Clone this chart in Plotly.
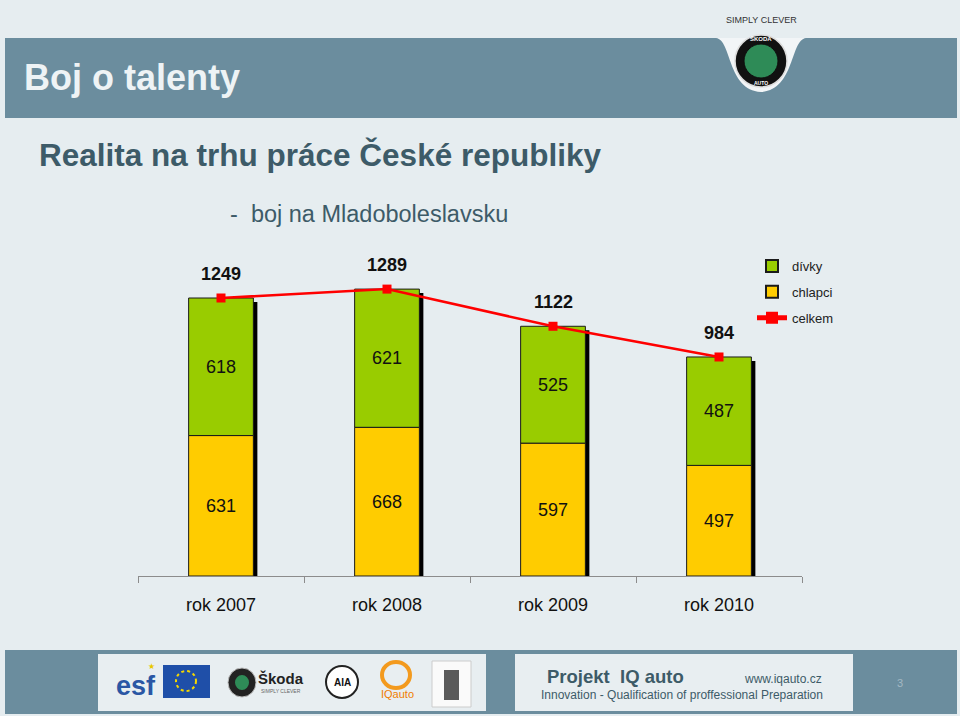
import plotly.graph_objects as go

# ---------------- data ----------------
categories = ["rok 2007", "rok 2008", "rok 2009", "rok 2010"]
divky = [618, 621, 525, 487]      # girls (green, upper segment)
chlapci = [631, 668, 597, 497]    # boys (yellow, lower segment)
celkem = [1249, 1289, 1122, 984]  # total (red line)

# ---------------- geometry helpers ----------------
W, H = 960, 716
L, R, T, B = 138, 802, 264, 576          # plot area in pixels
PW, PH = R - L, B - T
PX_PER_UNIT = 278 / 1249.0
YMAX = PH / PX_PER_UNIT


def xp(px):
    return (px - L) / PW


def yp(py):
    return (B - py) / PH


BG = "#E6EDF0"
BAND = "#6B8D9E"
DARK_TXT = "#3D5B68"
GREEN = "#99CC00"
YELLOW = "#FFCC00"
OUTLINE = "#1A1A1A"
FONT = "Liberation Sans, Arial"

BAR_W = 0.39
SHADOW_DX = 4 / 166.0
SHADOW_DY = 4 / PX_PER_UNIT

fig = go.Figure()

# shadow behind bars
fig.add_trace(go.Bar(
    x=categories, y=[c - SHADOW_DY for c in celkem], base=0,
    width=BAR_W, offset=-BAR_W / 2 + SHADOW_DX,
    marker=dict(color="#000000", line=dict(width=0)),
    showlegend=False, hoverinfo="skip",
))

fig.add_trace(go.Bar(
    x=categories, y=chlapci, base=0, name="chlapci",
    width=BAR_W, offset=-BAR_W / 2,
    marker=dict(color=YELLOW, line=dict(color=OUTLINE, width=1)),
    text=[str(v) for v in chlapci], textposition="inside",
    insidetextanchor="middle", textangle=0, constraintext="none",
    textfont=dict(size=18, color="#111111", family=FONT),
    legendrank=2, legendgroup="b",
))

fig.add_trace(go.Bar(
    x=categories, y=divky, base=chlapci, name="dívky",
    width=BAR_W, offset=-BAR_W / 2,
    marker=dict(color=GREEN, line=dict(color=OUTLINE, width=1)),
    text=[str(v) for v in divky], textposition="inside",
    insidetextanchor="middle", textangle=0, constraintext="none",
    textfont=dict(size=18, color="#111111", family=FONT),
    legendrank=1, legendgroup="a",
))

fig.add_trace(go.Scatter(
    x=categories, y=celkem, name="celkem", mode="lines+markers",
    line=dict(color="#FF0000", width=2.5),
    marker=dict(symbol="square", size=9, color="#FF0000"),
    legendrank=3, legendgroup="c",
))

annotations = []
for c, v in zip(categories, celkem):
    annotations.append(dict(
        x=c, y=v, xref="x", yref="y", text=f"<b>{v}</b>", showarrow=False,
        yanchor="middle", yshift=24,
        font=dict(size=18, color="#111111", family=FONT),
    ))

shapes = []


def rect(x0, y0, x1, y1, fill, line_color=None, lw=0, layer="below"):
    shapes.append(dict(type="rect", xref="paper", yref="paper",
                       x0=xp(x0), x1=xp(x1), y0=yp(y1), y1=yp(y0),
                       fillcolor=fill, layer=layer,
                       line=dict(color=line_color or fill, width=lw)))


def circ(x0, y0, x1, y1, fill, line_color=None, lw=0, dash="solid", layer="above"):
    shapes.append(dict(type="circle", xref="paper", yref="paper",
                       x0=xp(x0), x1=xp(x1), y0=yp(y1), y1=yp(y0),
                       fillcolor=fill, layer=layer,
                       line=dict(color=line_color or fill, width=lw, dash=dash)))


def text(x, y, s, size, color, bold=False, xanchor="center", family=FONT):
    annotations.append(dict(
        x=xp(x), y=yp(y), xref="paper", yref="paper", showarrow=False,
        text=f"<b>{s}</b>" if bold else s, xanchor=xanchor, yanchor="middle",
        font=dict(size=size, color=color, family=family),
    ))


# header band
rect(5, 38, 957, 118, BAND)
# white notch for logo
pts = [(716, 38), (732, 40), (727, 90), (761, 92), (795, 90), (790, 40), (806, 38)]
path = "M {},{} C {},{} {},{} {},{} C {},{} {},{} {},{} Z".format(
    *[v for p in pts for v in (xp(p[0]), yp(p[1]))])
shapes.append(dict(type="path", xref="paper", yref="paper", path=path,
                   fillcolor="#F2F5F7", line=dict(width=0), layer="below"))
circ(735, 35, 787, 87, "#111111", "#DDDDDD", 1.5)
circ(744, 44, 778, 78, "#2E8B57", "#0E0E0E", 1)
text(761, 39, "ŠKODA", 6, "#FFFFFF", bold=True)
text(761, 83, "AUTO", 5, "#FFFFFF", bold=True)
text(761, 20, "SIMPLY CLEVER", 9, "#333333")
text(22, 78, "Boj o talenty", 36, "#EEF3F5", bold=True, xanchor="left")
text(37, 155, "Realita na trhu práce České republiky", 31.5, DARK_TXT, bold=True, xanchor="left")
text(228, 214, "-  boj na Mladoboleslavsku", 23.5, DARK_TXT, xanchor="left")

# footer band
rect(5, 650, 957, 714, BAND)
rect(98, 654, 486, 711, "#E8EEF1")
rect(515, 654, 853, 711, "#E8EEF1")

# footer logos (simplified)
text(136, 686, "esf", 27, "#2A56A4", bold=True)
text(151, 666, "★", 8, "#E8C800")
rect(163, 665, 210, 698, "#1F4FA8", layer="above")
circ(176, 671, 196, 691, "rgba(0,0,0,0)", "#F5D800", 2, dash="dot")
circ(228, 668, 256, 697, "#222222", "#BBBBBB", 1)
circ(235, 675, 249, 690, "#2E8B57")
text(281, 678, "Škoda", 15, "#222222", bold=True)
text(281, 691, "SIMPLY CLEVER", 5, "#666666")
circ(326, 666, 358, 698, "#FFFFFF", "#222222", 2)
text(342, 682, "AIA", 10, "#111111", bold=True)
circ(382, 662, 410, 688, "rgba(0,0,0,0)", "#F39A1E", 4)
text(397, 694, "IQauto", 11, "#F07D00")
rect(432, 661, 471, 707, "#FAFAFA", "#CCCCCC", 1, layer="above")
rect(444, 670, 459, 700, "#5A5A5A", layer="above")

text(615, 676, "Projekt  IQ auto", 18.5, DARK_TXT, bold=True)
text(783, 679, "www.iqauto.cz", 12, DARK_TXT)
text(682, 695, "Innovation - Qualification of proffessional Preparation", 12, DARK_TXT)
text(900, 683, "3", 11, "#A3B8C3")

fig.update_layout(
    width=W, height=H,
    margin=dict(l=L, r=W - R, t=T, b=H - B, pad=0),
    paper_bgcolor=BG, plot_bgcolor=BG,
    barmode="overlay",
    font=dict(family=FONT, color="#111111"),
    xaxis=dict(
        type="category", range=[-0.5, 3.5], tickson="boundaries",
        ticks="outside", ticklen=6, tickcolor="#8C8C8C", tickwidth=1,
        showline=True, linecolor="#8C8C8C", linewidth=1,
        showgrid=False, zeroline=False, ticklabelstandoff=12,
        tickfont=dict(size=18, color="#111111", family=FONT),
    ),
    yaxis=dict(range=[0, YMAX], visible=False, showgrid=False, zeroline=False),
    legend=dict(
        x=xp(752), y=yp(251), xanchor="left", yanchor="top",
        bgcolor="rgba(0,0,0,0)", traceorder="grouped", tracegroupgap=6,
        font=dict(size=13, color="#222222", family=FONT),
        itemsizing="constant",
    ),
    shapes=shapes,
    annotations=annotations,
    showlegend=True,
)

fig.write_html(
    "out.html",
    config={"displayModeBar": False},
    post_script="document.body.style.margin='0';document.body.style.background='" + BG + "';",
)
